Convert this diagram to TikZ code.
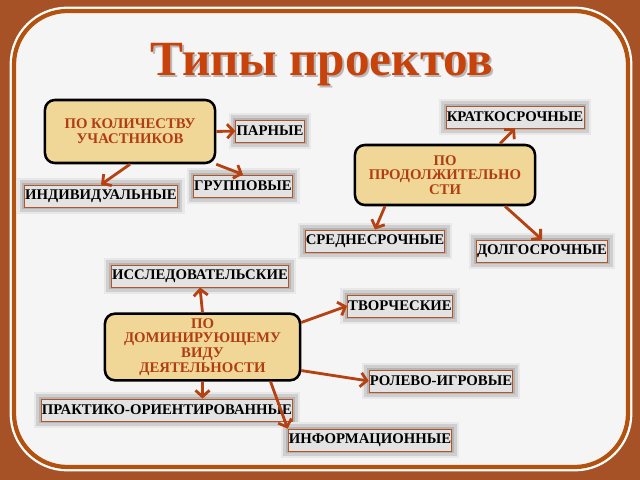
\documentclass[tikz,border=0pt]{standalone}
\usepackage{fontspec}
\setmainfont{Liberation Serif}
\usepackage{tikz}
\usetikzlibrary{calc, arrows.meta, positioning}

\definecolor{fon}{RGB}{166,82,38}
\definecolor{vien}{RGB}{178,82,14}
\definecolor{nen}{RGB}{245,245,245}
\definecolor{tieude}{RGB}{200,66,12}
\definecolor{giay}{RGB}{240,215,152}
\definecolor{chu}{RGB}{176,62,18}
\definecolor{muiten}{RGB}{180,66,18}
\definecolor{vienla}{RGB}{176,86,40}

\tikzset{
    nhom/.style={draw=black, line width=1.8pt, rounded corners=7pt, fill=giay,
        text=chu, font=\fontsize{10.5}{10.5}\selectfont\bfseries, align=center},
    loai/.style={draw=vienla, line width=0.6pt, fill=gray!22,
        preaction={draw=gray!18, line width=10pt},
        preaction={draw=gray!38, line width=7pt},
        preaction={draw=gray!58, line width=3.5pt},
        font=\fontsize{10.5}{12}\selectfont\bfseries, inner xsep=0.5pt, inner ysep=0pt,
        minimum height=0.55cm},
    mui/.style={->, draw=muiten, line width=2pt}
}

\begin{document}
\begin{tikzpicture}[>={Straight Barb[length=4.5pt, width=10pt]}, x=0.025cm, y=-0.025cm]
    % 1. Nền và khung
    \fill[fon] (0,0) rectangle (640,480);
    \draw[white, line width=2pt, rounded corners=40pt] (11,8) rectangle (631,470);
    \draw[vien, line width=3pt, fill=nen, rounded corners=38pt] (14,11) rectangle (628,467);

    % 2. Tiêu đề
    \node[anchor=base, font=\fontsize{35}{40}\selectfont\bfseries, text=gray!55] (bongtieude) at (324,77) {Типы проектов};
    \node[anchor=base, font=\fontsize{35}{40}\selectfont\bfseries, text=tieude] (tieude) at (322,75) {Типы проектов};

    % 3. Các nhóm chính
    \node[nhom, minimum width=4.25cm, minimum height=1.575cm] (qty) at (130,131.5) {ПО КОЛИЧЕСТВУ\\ УЧАСТНИКОВ};
    \node[nhom, minimum width=4.5cm, minimum height=1.5cm] (dur) at (445,175) {ПО\\ ПРОДОЛЖИТЕЛЬНО\\ СТИ};
    \node[nhom, minimum width=4.875cm, minimum height=1.625cm] (act) at (202.5,347) {ПО\\ ДОМИНИРУЮЩЕМУ\\ ВИДУ\\ ДЕЯТЕЛЬНОСТИ};

    % 4. Các loại
    \node[loai] (pair) at (270,131) {ПАРНЫЕ};
    \node[loai] (group) at (243,186) {ГРУППОВЫЕ};
    \node[loai] (indiv) at (101,196) {ИНДИВИДУАЛЬНЫЕ};
    \node[loai] (shortt) at (515,117) {КРАТКОСРОЧНЫЕ};
    \node[loai] (mid) at (375,241) {СРЕДНЕСРОЧНЫЕ};
    \node[loai] (longt) at (542,251) {ДОЛГОСРОЧНЫЕ};
    \node[loai] (research) at (200,276) {ИССЛЕДОВАТЕЛЬСКИЕ};
    \node[loai] (creative) at (400,306) {ТВОРЧЕСКИЕ};
    \node[loai] (role) at (441,381) {РОЛЕВО-ИГРОВЫЕ};
    \node[loai] (practice) at (167,410) {ПРАКТИКО-ОРИЕНТИРОВАННЫЕ};
    \node[loai] (info) at (370,440) {ИНФОРМАЦИОННЫЕ};

    % 5. Mũi tên
    \draw[mui] (qty.east) -- (pair.west);
    \draw[mui] (qty.south east) -- (group.north);
    \draw[mui] (qty.south) -- (indiv.north);
    \draw[mui] ([xshift=1.375cm]dur.north) -- (shortt.south);
    \draw[mui] ([xshift=-1.5cm]dur.south) -- (mid.north);
    \draw[mui] ([xshift=1.5cm]dur.south) -- (longt.north);
    \draw[mui] (act.north) -- (research.south);
    \draw[mui] (act.south) -- (act.south |- practice.north);
    \draw[mui] ([xshift=1.7cm]act.south) -- (info.north west);
    \draw[mui] ([yshift=-0.25cm]act.north east) -- (creative.west);
    \draw[mui] ([yshift=0.275cm]act.south east) -- (role.west);
\end{tikzpicture}
\end{document}
